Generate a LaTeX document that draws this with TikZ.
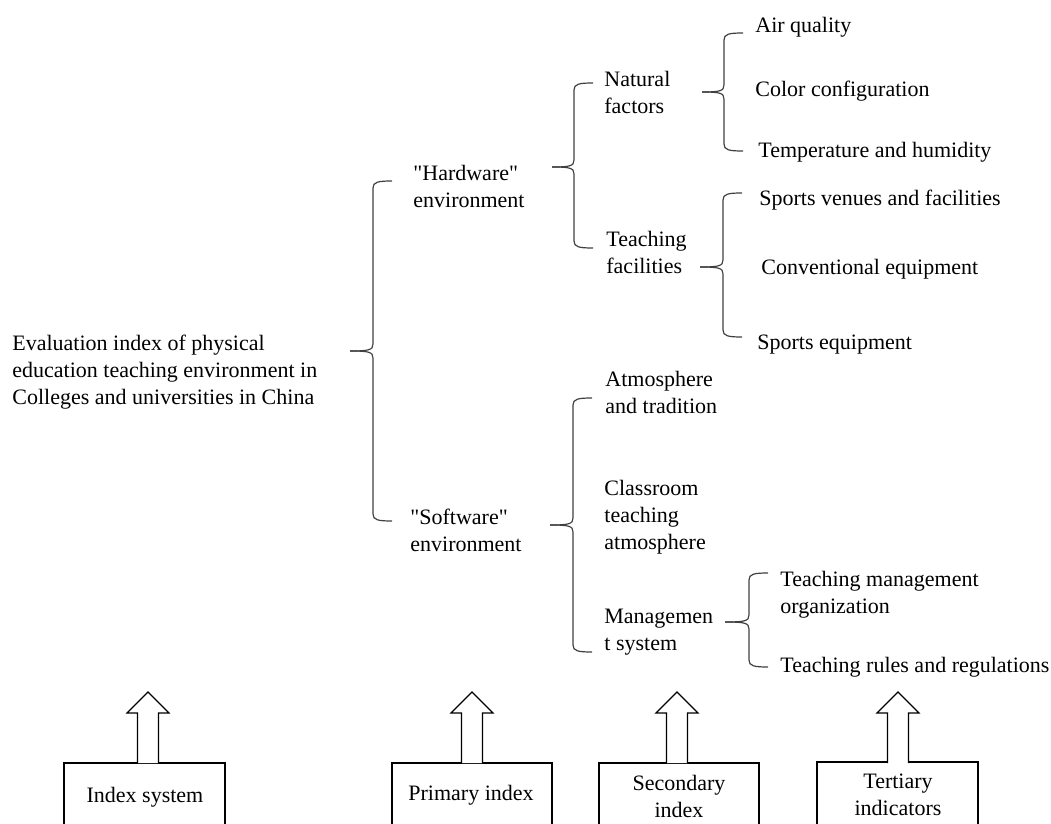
\documentclass[tikz,border=0pt]{standalone}
\usepackage{fontspec}
\setmainfont{Liberation Serif}[Ligatures=TeXOff]
\tikzset{
  txt/.style={anchor=west, inner sep=0pt, align=left, yshift=-1pt, font=\fontsize{11}{13.5}\selectfont},
  ctxt/.style={anchor=center, inner sep=0pt, align=center, font=\fontsize{11}{13.5}\selectfont},
  br/.style={draw=black!75, line width=0.6pt},
  bx/.style={draw=black, line width=0.6pt},
}
% #1 xend, #2 ytop, #3 xv, #4 ycusp, #5 xtip, #6 ybot
\newcommand\mybrace[6]{%
  \draw[br] (#1,#2) .. controls (#3+5,#2) and (#3,#2+1) .. (#3,#2+7) -- (#3,#4-7) .. controls (#3,#4-1) and (#3-4,#4) .. (#5,#4);
  \draw[br] (#5,#4) .. controls (#3-4,#4) and (#3,#4+1) .. (#3,#4+7) -- (#3,#6-7) .. controls (#3,#6-1) and (#3+5,#6) .. (#1,#6);
}
\newcommand\blockarrow[1]{%
  \draw[bx, fill=white] (#1-10.5,763) -- (#1-10.5,713) -- (#1-21,713) -- (#1,692) -- (#1+21,713) -- (#1+10.5,713) -- (#1+10.5,763);
}
\begin{document}
\begin{tikzpicture}[x=0.5pt,y=-0.5pt]
\useasboundingbox (0,0) rectangle (1051,824);
\clip (0,0) rectangle (1051,824);
% texts
\node[txt] (root) at (12,370) {Evaluation index of physical\\education teaching environment in\\Colleges and universities in China};
\node[txt] (hw) at (413,184) {"Hardware"\\environment};
\node[txt] (sw) at (410,528) {"Software"\\environment};
\node[txt] (nat) at (604,90) {Natural\\factors};
\node[txt] (tf) at (606,250) {Teaching\\facilities};
\node[txt] (atm) at (605,390) {Atmosphere\\and tradition};
\node[txt] (cls) at (604,515) {Classroom\\teaching\\atmosphere};
\node[txt] (mgmt) at (604,630) {Managemen\\t system};
\node[txt] (air) at (755,25) {Air quality};
\node[txt] (col) at (755,89) {Color configuration};
\node[txt] (tmp) at (758,150) {Temperature and humidity};
\node[txt] (spv) at (759,198) {Sports venues and facilities};
\node[txt] (conv) at (761,267) {Conventional equipment};
\node[txt] (speq) at (757,343) {Sports equipment};
\node[txt] (tmo) at (780,593) {Teaching management\\organization};
\node[txt] (trr) at (780,665) {Teaching rules and regulations};
% braces
\mybrace{392}{181}{373}{351}{350}{521}
\mybrace{593}{83}{574}{167}{552}{248}
\mybrace{743}{33}{724}{92}{702}{151}
\mybrace{742}{193}{723}{267}{700}{337}
\mybrace{592}{398}{573}{525}{550}{652}
\mybrace{768}{573}{749}{622}{725}{667}
% bottom boxes
\draw[bx] (64,763) rectangle (225,840);
\draw[bx] (392,763) rectangle (552,840);
\draw[bx] (599,763) rectangle (759,840);
\draw[bx] (817,762) rectangle (978,840);
\node[ctxt] (b1) at (145,797) {Index system};
\node[ctxt] (b2) at (471,795) {Primary index};
\node[ctxt] (b3) at (679,796) {Secondary\\index};
\node[ctxt] (b4) at (898,795) {Tertiary\\indicators};
% arrows
\blockarrow{148}
\blockarrow{472}
\blockarrow{677}
\blockarrow{898}
\end{tikzpicture}
\end{document}
